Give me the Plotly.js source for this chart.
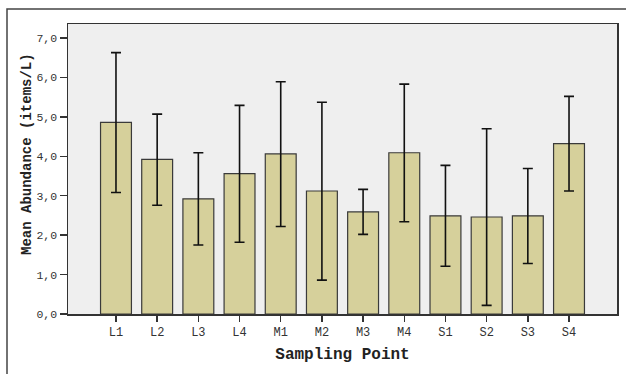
<!DOCTYPE html>
<html>
<head>
<meta charset="utf-8">
<script src="https://cdn.plot.ly/plotly-3.0.1.min.js"></script>
<style>html,body{margin:0;padding:0;background:#fff;}#chart{width:626px;height:374px;}</style>
</head>
<body>
<div id="chart"></div>
<script>
const categories = ["L1","L2","L3","L4","M1","M2","M3","M4","S1","S2","S3","S4"];
const means = [4.86, 3.92, 2.92, 3.56, 4.06, 3.12, 2.59, 4.09, 2.49, 2.46, 2.49, 4.32];
const upper = [6.63, 5.07, 4.09, 5.29, 5.89, 5.37, 3.16, 5.83, 3.77, 4.70, 3.69, 5.52];
const lower = [3.08, 2.76, 1.75, 1.82, 2.22, 0.86, 2.02, 2.34, 1.21, 0.22, 1.28, 3.12];
const yTicks = [0,1,2,3,4,5,6,7];
const yTickText = ["0,0","1,0","2,0","3,0","4,0","5,0","6,0","7,0"];

const plus = upper.map((u,i)=>u-means[i]);
const minus = means.map((m,i)=>m-lower[i]);

const mono = "'Liberation Mono', 'Courier New', monospace";

const trace = {
  type: 'bar',
  x: categories.map((c,i)=>i),
  y: means,
  width: 0.75,
  marker: {color: '#d6d09b', line: {color: '#3a3a3a', width: 1.2}},
  error_y: {type: 'data', symmetric: false, array: plus, arrayminus: minus,
            color: '#111', thickness: 1.6, width: 5},
  hoverinfo: 'none'
};

const layout = {
  width: 626, height: 374,
  margin: {l: 68, r: 9, t: 24, b: 60},
  paper_bgcolor: '#ffffff',
  plot_bgcolor: '#efefef',
  showlegend: false,
  xaxis: {
    range: [-1.165, 12.165],
    tickvals: categories.map((c,i)=>i),
    ticktext: categories,
    ticks: 'outside', ticklen: 6, tickwidth: 1.5, tickcolor: '#333',
    showgrid: false, zeroline: false,
    showline: true, linecolor: '#333', linewidth: 1.5, mirror: true,
    tickfont: {family: mono, size: 12, color: '#333'},
    title: {text: '<b>Sampling Point</b>', font: {family: mono, size: 16, color: '#222'}, standoff: 9},
    automargin: false
  },
  yaxis: {
    range: [0, 7.355],
    tickvals: yTicks,
    ticktext: yTickText,
    ticks: 'outside', ticklen: 7, tickwidth: 1.5, tickcolor: '#333',
    showgrid: false, zeroline: false,
    showline: true, linecolor: '#333', linewidth: 1.5, mirror: true,
    tickfont: {family: mono, size: 11.5, color: '#333'},
    automargin: false
  },
  annotations: [
    {text: '<b>Mean Abundance (items/L)</b>', xref: 'paper', yref: 'paper',
     x: (27 - 68) / 549, y: (314 - 154) / 290, xanchor: 'center', yanchor: 'middle',
     textangle: -90, showarrow: false, font: {family: mono, size: 14, color: '#222'}}
  ],
  shapes: [
    {type: 'rect', xref: 'paper', yref: 'paper',
     x0: -61/549, x1: 1 + 40/549, y0: -100/290, y1: 1 + 15/290,
     line: {color: '#444', width: 1.5}, fillcolor: 'rgba(0,0,0,0)', layer: 'below'}
  ]
};

Plotly.newPlot('chart', [trace], layout, {staticPlot: true});
</script>
</body>
</html>
